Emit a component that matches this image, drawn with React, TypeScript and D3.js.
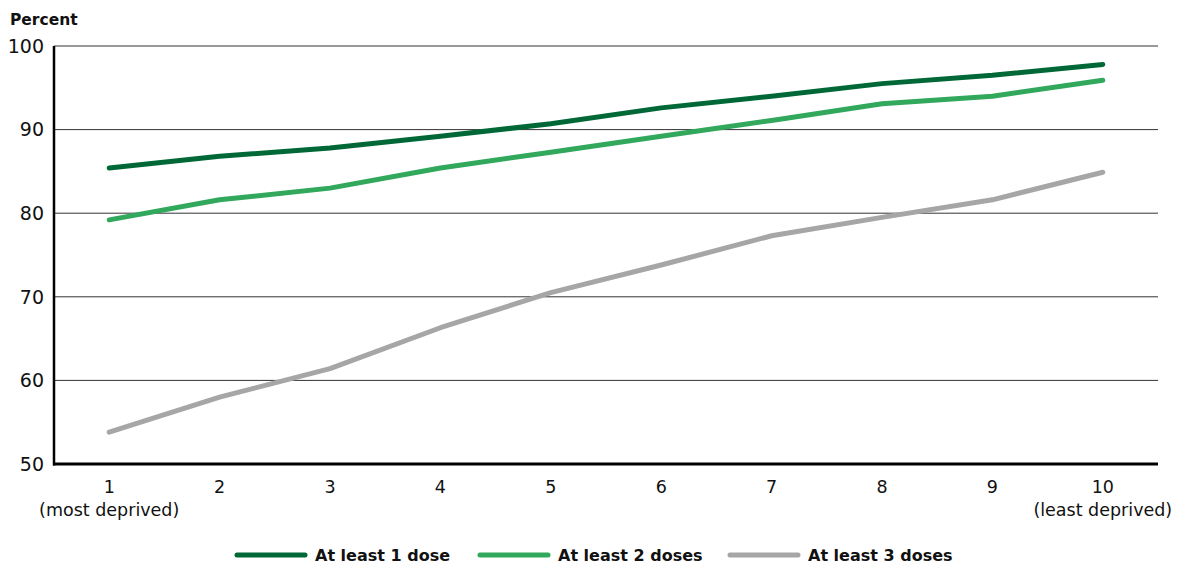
import React from "react";
import * as d3 from "d3";

const categories = [1, 2, 3, 4, 5, 6, 7, 8, 9, 10];
const catSubLabels: Record<number, string> = { 1: "(most deprived)", 10: "(least deprived)" };
const dose1 = [85.4, 86.8, 87.8, 89.2, 90.7, 92.6, 94.0, 95.5, 96.5, 97.8];
const dose2 = [79.2, 81.6, 83.0, 85.4, 87.3, 89.2, 91.1, 93.1, 94.0, 95.9];
const dose3 = [53.8, 58.0, 61.4, 66.3, 70.5, 73.8, 77.3, 79.5, 81.6, 84.9];
const yTicks = [50, 60, 70, 80, 90, 100];
const seriesNames = ["At least 1 dose", "At least 2 doses", "At least 3 doses"];
const seriesColors = ["#006837", "#31a85c", "#a6a6a6"];

export default function App() {
  const W = 1184, H = 567;
  const left = 54, right = 1158, top = 46, bottom = 464;
  const x = d3.scalePoint<number>().domain(categories).range([left, right]).padding(0.5);
  const y = d3.scaleLinear().domain([50, 100]).range([bottom, top]);
  const line = d3.line<number>().x((_, i) => x(categories[i])!).y((d) => y(d));
  const series = [dose1, dose2, dose3];
  const font = "'DejaVu Sans', sans-serif";
  const legendX = [237, 480, 730];
  return (
    <svg width={W} height={H} style={{ position: "absolute", left: 0, top: 0, fontFamily: font }}>
      <text x={10} y={25} fontSize={15.5} fontWeight={700} fill="#111">Percent</text>
      {yTicks.filter((t) => t !== 50).map((t) => (
        <line key={t} x1={left} x2={right} y1={y(t)} y2={y(t)} stroke="#333" strokeWidth={1} />
      ))}
      {yTicks.map((t) => (
        <text key={t} x={44} y={y(t)} dy="0.36em" textAnchor="end" fontSize={19} fill="#111">{t}</text>
      ))}
      <line x1={left} x2={left} y1={top} y2={bottom + 1.5} stroke="#000" strokeWidth={2.5} />
      <line x1={left - 1} x2={right} y1={bottom} y2={bottom} stroke="#000" strokeWidth={3} />
      {categories.map((c) => (
        <g key={c}>
          <text x={x(c)} y={493} textAnchor="middle" fontSize={17.5} fill="#111">{c}</text>
          {catSubLabels[c] && (
            <text x={x(c)} y={516} textAnchor="middle" fontSize={17.5} fill="#111">{catSubLabels[c]}</text>
          )}
        </g>
      ))}
      {series.map((s, i) => (
        <path key={i} d={line(s)!} fill="none" stroke={seriesColors[i]} strokeWidth={5} strokeLinecap="round" strokeLinejoin="round" />
      ))}
      {seriesNames.map((n, i) => (
        <g key={n}>
          <line x1={legendX[i]} x2={legendX[i] + 68} y1={555} y2={555} stroke={seriesColors[i]} strokeWidth={5} strokeLinecap="round" />
          <text x={legendX[i] + 78} y={555} dy="0.36em" fontSize={16} fontWeight={700} fill="#111">{n}</text>
        </g>
      ))}
    </svg>
  );
}
